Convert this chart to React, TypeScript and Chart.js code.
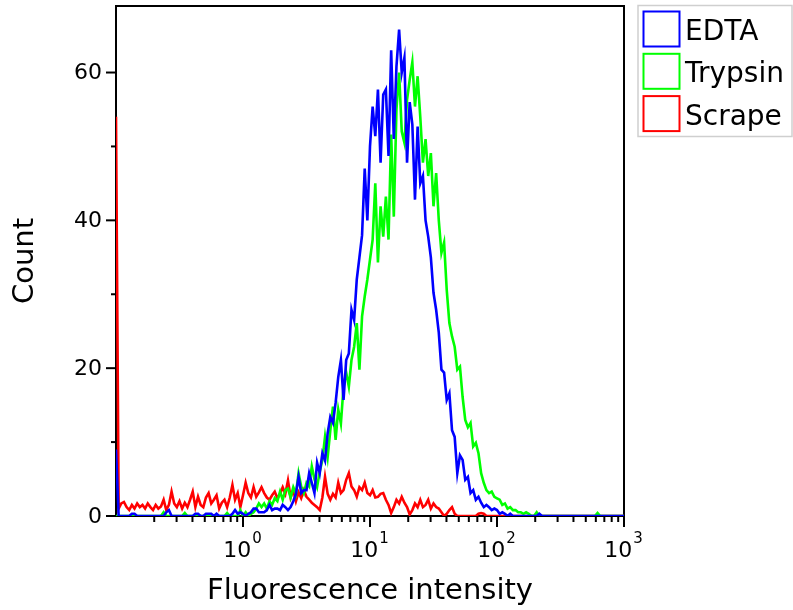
import React, { useEffect, useRef } from "react";
import { Chart, registerables } from "chart.js";

Chart.register(...registerables);

// ---- axis definition ----
const CHANNELS_PER_DECADE = 48;
const LOG_START = -1; // first channel at 10^-1
const X_MIN = 0.1;
const X_MAX = 1000;
const Y_MIN = 0;
const Y_MAX = 69;
const Y_MAJOR_TICKS = [0, 20, 40, 60];
const Y_MINOR_TICKS = [10, 30, 50];
const X_MAJOR_EXPONENTS = [0, 1, 2, 3];
const X_MINOR_TICKS = [
  0.2, 0.3, 0.4, 0.5, 0.6, 0.7, 0.8, 0.9,
  2, 3, 4, 5, 6, 7, 8, 9,
  20, 30, 40, 50, 60, 70, 80, 90,
  200, 300, 400, 500, 600, 700, 800, 900,
];
const X_TITLE = "Fluorescence intensity";
const Y_TITLE = "Count";
const SERIES_LABELS = ["EDTA", "Trypsin", "Scrape"];
const SERIES_COLORS = ["#0000ff", "#00ff00", "#ff0000"];

// ---- series values (counts per channel, channel 0 .. 192) ----
const edta = [
  9, 0, 0, 0, 0, 0, 0.3, 0.3, 0, 0,
  0, 0, 0, 0, 0, 0, 0, 0, 0, 0.5,
  0.8, 0, 0, 0, 0, 0, 0, 0, 0, 0,
  0.3, 0.3, 0, 0, 0.3, 0.3, 0.3, 0, 0.3, 0,
  0, 0, 0, 0, 0.3, 0.8, 0.3, 0.5, 0.3, 0,
  0.3, 0.5, 1.0, 1.0, 0.5, 0.5, 0.5, 0.8, 1.5, 0.8,
  1.0, 1.0, 0.8, 1.5, 1.2, 0.8, 1.2, 2.0, 3.0, 5.3,
  3.1, 3.5, 3.5, 5.8, 4.5, 3.1, 7.2, 5.8, 8.5, 7.5,
  11.2, 13.4, 12.6, 15.3, 18.8, 21.1, 15.7, 21.1, 22, 27.9,
  26.5, 32, 35, 38, 47, 40, 50, 55.4, 51.4, 57.7,
  47.8, 57, 57.7, 48.7, 63, 51, 60.8, 65.8, 60, 62,
  47.8, 56, 53, 42.8, 52.7, 45, 46, 40, 37.8, 35,
  30.2, 27.9, 24.8, 19.8, 19.4, 15.7, 16.6, 11.6, 10.7, 5.8,
  8.2, 7.6, 4.9, 5.3, 3.1, 3.5, 2.2, 2.6, 1.8, 1.2,
  1.5, 1.2, 0.8, 1.0, 0.8, 0.3, 0.5, 0.3, 0, 0.3,
  0, 0, 0, 0, 0, 0, 0, 0, 0, 0,
  0.3, 0, 0, 0, 0, 0, 0, 0, 0, 0,
  0, 0, 0, 0, 0, 0, 0, 0, 0, 0,
  0, 0, 0, 0, 0, 0, 0, 0, 0, 0,
  0, 0, 0,
];

const trypsin = [
  0, 0, 0, 0, 0, 0, 0, 0, 0, 0,
  0, 0, 0, 0, 0, 0, 0, 0, 0.5, 0,
  0, 0, 0, 0, 0, 0, 0.4, 0, 0, 0,
  0, 0, 0, 0, 0, 0, 0, 0, 0, 0,
  0, 0, 0.4, 0, 0, 0, 0, 0.8, 0, 0.5,
  0, 0.3, 0.5, 1.0, 1.7, 1.2, 1.7, 1.0, 2.0, 1.5,
  2.4, 2.0, 3.3, 2.2, 3.5, 3.7, 2.5, 3.9, 3.0, 5.8,
  4.0, 3.1, 4.5, 4.0, 6.7, 5.0, 3.9, 6.0, 7.6, 10.7,
  8.0, 11.6, 14.8, 10.3, 14.4, 12.5, 17.5, 19.4, 17.5, 21.1,
  22.9, 26.1, 19.8, 27, 29.7, 32, 34.7, 37.4, 45, 34.3,
  41.9, 37.8, 43.2, 37.4, 51.6, 40.5, 55, 60, 52, 50.5,
  56.3, 59, 61.4, 55.4, 59.5, 54, 47.8, 51, 46, 49.1,
  41.9, 46.4, 40, 35.6, 37, 30.6, 26.1, 24.3, 22.9, 19.8,
  20.2, 16.1, 13, 12, 12.6, 9.4, 9.9, 8.5, 5.8, 4.5,
  3.5, 3.1, 3.3, 2.6, 2.4, 2.2, 1.5, 1.7, 1.0, 1.2,
  0.8, 0.8, 0.5, 0.5, 0.3, 0.5, 0.3, 0, 0, 0.5,
  0, 0, 0, 0, 0, 0, 0, 0, 0, 0,
  0, 0, 0, 0, 0, 0, 0, 0, 0, 0,
  0, 0, 0.4, 0, 0, 0, 0, 0, 0, 0,
  0, 0, 0,
];

const scrape = [
  54, 1.0, 1.7, 1.9, 1.2, 0.8, 1.5, 1.0, 1.7, 1.2,
  1.5, 1.0, 1.7, 1.2, 0.8, 1.5, 1.0, 1.3, 2.2, 0.8,
  1.5, 3.3, 1.7, 1.2, 2.0, 1.0, 1.8, 1.2, 2.2, 3.3,
  1.2, 2.6, 1.5, 1.2, 2.5, 3.1, 1.7, 2.2, 2.8, 1.0,
  1.8, 2.2, 1.2, 2.5, 4.2, 2.2, 3.1, 1.2, 2.8, 4.5,
  3.1, 2.5, 3.9, 2.6, 3.2, 3.9, 3.1, 2.5, 2.2, 2.8,
  3.3, 2.4, 3.0, 3.9, 3.0, 4.8, 2.5, 3.5, 2.0, 3.2,
  2.4, 3.5, 2.6, 2.2, 1.8, 1.5, 1.2, 0.8, 2.5, 5.3,
  3.0, 2.2, 3.0, 2.5, 4.5, 3.1, 3.5, 4.9, 5.8, 4.0,
  3.5, 2.6, 3.9, 3.5, 4.5, 3.1, 2.8, 3.5, 2.5, 2.6,
  3.0, 3.1, 2.2, 1.5, 0.4, 1.2, 2.2, 1.7, 2.6, 1.8,
  1.2, 0.2, 0.8, 1.7, 1.2, 2.2, 1.2, 1.5, 2.2, 1.0,
  1.7, 1.2, 1.0, 0.5, 0, 0.3, 0.8, 1.2, 0.3, 0,
  0, 0, 0, 0, 0, 0, 0, 0.3, 0.4, 0.3,
  0, 0, 0, 0, 0, 0, 0, 0, 0, 0,
  0, 0, 0, 0, 0, 0, 0, 0, 0, 0,
  0, 0, 0, 0, 0, 0, 0, 0, 0, 0,
  0, 0, 0, 0, 0, 0, 0, 0, 0, 0,
  0, 0, 0, 0, 0, 0, 0, 0, 0, 0,
  0, 0, 0,
];

const SERIES = [edta, trypsin, scrape];

// channel index -> fluorescence value (bin position on the log axis)
const channelX = (i: number) => Math.pow(10, LOG_START + i / CHANNELS_PER_DECADE);

const FONT = "'DejaVu Sans', sans-serif";

const decorPlugin = {
  id: "decor",
  beforeDatasetsDraw(chart: any) {
    const { ctx, chartArea } = chart;
    const { left, right, top, bottom } = chartArea;
    ctx.save();
    ctx.strokeStyle = "#000";
    ctx.lineWidth = 2;
    ctx.strokeRect(left, top, right - left, bottom - top);
    ctx.restore();
  },
  afterDraw(chart: any) {
    const { ctx, chartArea } = chart;
    const { left, right, top, bottom } = chartArea;
    const xs = chart.scales.x;
    const ys = chart.scales.y;
    ctx.save();
    ctx.strokeStyle = "#000";
    ctx.fillStyle = "#000";
    ctx.lineWidth = 2;

    // y ticks
    Y_MAJOR_TICKS.forEach((v) => {
      const y = ys.getPixelForValue(v);
      ctx.beginPath();
      ctx.moveTo(left - 10, y);
      ctx.lineTo(left, y);
      ctx.stroke();
    });
    Y_MINOR_TICKS.forEach((v) => {
      const y = ys.getPixelForValue(v);
      ctx.beginPath();
      ctx.moveTo(left - 5, y);
      ctx.lineTo(left, y);
      ctx.stroke();
    });
    ctx.font = `22px ${FONT}`;
    ctx.textAlign = "right";
    ctx.textBaseline = "middle";
    Y_MAJOR_TICKS.forEach((v) => {
      ctx.fillText(String(v), left - 14, ys.getPixelForValue(v) + 1);
    });

    // x ticks
    X_MAJOR_EXPONENTS.forEach((e) => {
      const x = xs.getPixelForValue(Math.pow(10, e));
      ctx.beginPath();
      ctx.moveTo(x, bottom);
      ctx.lineTo(x, bottom + 11);
      ctx.stroke();
    });
    X_MINOR_TICKS.forEach((v) => {
      const x = xs.getPixelForValue(v);
      ctx.beginPath();
      ctx.moveTo(x, bottom);
      ctx.lineTo(x, bottom + 6);
      ctx.stroke();
    });
    ctx.textBaseline = "alphabetic";
    X_MAJOR_EXPONENTS.forEach((e) => {
      const x = xs.getPixelForValue(Math.pow(10, e));
      ctx.font = `22px ${FONT}`;
      const wBase = ctx.measureText("10").width;
      ctx.font = `15px ${FONT}`;
      const wExp = ctx.measureText(String(e)).width;
      const start = x - (wBase + wExp) / 2 - 1;
      ctx.textAlign = "left";
      ctx.font = `22px ${FONT}`;
      ctx.fillText("10", start, 557);
      ctx.font = `15px ${FONT}`;
      ctx.fillText(String(e), start + wBase + 1, 543);
    });

    // axis titles
    ctx.font = `29px ${FONT}`;
    ctx.textAlign = "center";
    ctx.textBaseline = "alphabetic";
    ctx.fillText(X_TITLE, (left + right) / 2, 599);
    ctx.save();
    ctx.translate(25, (top + bottom) / 2);
    ctx.rotate(-Math.PI / 2);
    ctx.textBaseline = "middle";
    ctx.fillText(Y_TITLE, 0, 0);
    ctx.restore();

    // legend
    ctx.strokeStyle = "#cfcfcf";
    ctx.lineWidth = 1.5;
    ctx.strokeRect(638, 5.5, 154, 131);
    ctx.font = `28px ${FONT}`;
    ctx.textAlign = "left";
    ctx.textBaseline = "alphabetic";
    SERIES_LABELS.forEach((label, k) => {
      const y0 = 11 + k * 42.3;
      ctx.strokeStyle = SERIES_COLORS[k];
      ctx.lineWidth = 2;
      ctx.strokeRect(643.5, y0 + 0.5, 36, 35);
      ctx.fillStyle = "#000";
      ctx.fillText(label, 685, y0 + 29);
    });
    ctx.restore();
  },
};

export default function App() {
  const canvasRef = useRef<HTMLCanvasElement | null>(null);

  useEffect(() => {
    const canvas = canvasRef.current;
    if (!canvas) return;
    const chart = new Chart(canvas, {
      type: "line",
      data: {
        datasets: SERIES.map((vals, k) => ({
          label: SERIES_LABELS[k],
          data: vals.map((v, i) => ({ x: channelX(i), y: v })),
          borderColor: SERIES_COLORS[k],
          backgroundColor: SERIES_COLORS[k],
          borderWidth: 2.6,
          pointRadius: 0,
          tension: 0,
          fill: false,
        })),
      },
      options: {
        animation: false,
        responsive: false,
        maintainAspectRatio: false,
        layout: { padding: { left: 116, right: 169, top: 6, bottom: 94 } },
        plugins: {
          legend: { display: false },
          tooltip: { enabled: false },
          title: { display: false },
        },
        scales: {
          x: { type: "logarithmic", display: false, min: X_MIN, max: X_MAX },
          y: { type: "linear", display: false, min: Y_MIN, max: Y_MAX },
        },
      },
      plugins: [decorPlugin],
    });
    return () => chart.destroy();
  }, []);

  return (
    <div style={{ position: "absolute", left: 0, top: 0, width: 793, height: 610, background: "#fff" }}>
      <canvas ref={canvasRef} width={793} height={610} style={{ display: "block" }} />
    </div>
  );
}
